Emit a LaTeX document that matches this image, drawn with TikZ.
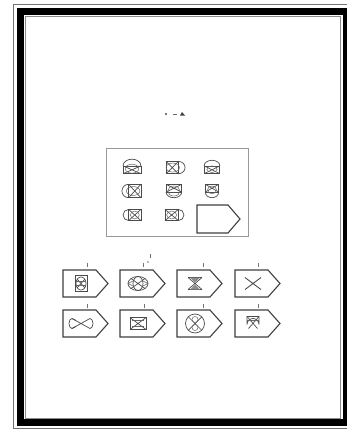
\documentclass[tikz,border=0pt]{standalone}
\begin{document}
\begin{tikzpicture}[x=1pt,y=-1pt,
  ln/.style={draw=black!70,line width=0.7pt},
  fine/.style={draw=black!60,line width=0.5pt},
  pentline/.style={draw=black!75,line width=1.1pt,line join=miter},
  tick/.style={draw=black!55,line width=0.7pt}]
\useasboundingbox (0,0) rectangle (347,436);
\fill[white] (0,0) rectangle (347,436);
% frame
\draw[black!55,line width=1pt] (13.5,4.5) rectangle (352,428.5);
\draw[black,line width=7pt] (20.5,11.5) rectangle (346,422.5);
\draw[black!45,line width=0.8pt] (25.5,16.5) rectangle (340.5,418.5);
% top small marks
\fill[black!70] (166,114) circle (1.1);
\draw[black!60,line width=0.8pt] (173,114.5) -- (177,114.5);
\fill[black!75] (182,112) -- (185,115.5) -- (180,115.5) -- cycle;
% panel
\draw[black!40,line width=0.8pt] (106,148) rectangle (248,236);
% panel icons
% r1c1 dome top
\begin{scope}[shift={(132,167)},scale=1.12]
 \draw[ln] (-8,-1) rectangle (8,6);
 \draw[ln] (-8,-1) -- (8,6) (-8,6) -- (8,-1);
 \draw[ln] (-8,-1) arc[start angle=180,end angle=0,x radius=8,y radius=-6];
 \draw[fine] (0,1.5) ellipse (6 and 4);
\end{scope}
% r1c2 round right
\begin{scope}[shift={(175,167)},scale=1.12]
 \draw[ln] (-8,-5) rectangle (3,6);
 \draw[ln] (-8,-5) -- (3,6) (-8,6) -- (3,-5);
 \draw[ln] (3,-5) arc[start angle=90,end angle=-90,x radius=6,y radius=-5.5];
 \draw[fine] (-2,0.5) ellipse (6 and 4);
\end{scope}
% r1c3 dome top small
\begin{scope}[shift={(212,167)},scale=1.12]
 \draw[ln] (-7,-1) rectangle (7,6);
 \draw[ln] (-7,-1) -- (7,6) (-7,6) -- (7,-1);
 \draw[ln] (-7,-1) arc[start angle=180,end angle=0,x radius=7,y radius=-5];
 \draw[fine] (0,2) ellipse (4.5 and 3);
\end{scope}
% r2c1 round left
\begin{scope}[shift={(132,191)},scale=1.12]
 \draw[ln] (-3,-6) rectangle (8,6);
 \draw[ln] (-3,-6) -- (8,6) (-3,6) -- (8,-6);
 \draw[ln] (-3,-6) arc[start angle=90,end angle=270,x radius=6,y radius=-6];
 \draw[fine] (1,0) ellipse (6 and 4);
\end{scope}
% r2c2 round bottom wide
\begin{scope}[shift={(175,191)},scale=1.12]
 \draw[ln] (-8,-6) rectangle (6,1);
 \draw[ln] (-8,-6) -- (6,1) (-8,1) -- (6,-6);
 \draw[ln] (-8,1) arc[start angle=180,end angle=360,x radius=7,y radius=-5];
 \draw[fine] (-1,0) ellipse (5.5 and 4.5);
\end{scope}
% r2c3 round bottom
\begin{scope}[shift={(212,191)},scale=1.12]
 \draw[ln] (-6,-6) rectangle (6,1);
 \draw[ln] (-6,-6) -- (6,1) (-6,1) -- (6,-6);
 \draw[ln] (-6,1) arc[start angle=180,end angle=360,x radius=6,y radius=-5];
 \draw[fine] (0,-1) ellipse (4 and 3.5);
\end{scope}
% r3c1 round left
\begin{scope}[shift={(132,215)},scale=1.12]
 \draw[ln] (-3,-5) rectangle (8,5);
 \draw[ln] (-3,-5) -- (8,5) (-3,5) -- (8,-5);
 \draw[ln] (-3,-5) arc[start angle=90,end angle=270,x radius=5,y radius=-5];
 \draw[fine] (2.5,0) ellipse (4 and 3.5);
\end{scope}
% r3c2 round right
\begin{scope}[shift={(175,215)},scale=1.12]
 \draw[ln] (-9,-5) rectangle (3,5);
 \draw[ln] (-9,-5) -- (3,5) (-9,5) -- (3,-5);
 \draw[ln] (3,-5) arc[start angle=90,end angle=-90,x radius=5,y radius=-5];
 \draw[fine] (-3,0) ellipse (4.5 and 3.5);
\end{scope}
% r3c3 empty pentagon
\draw[pentline] (197,205) -- (228,205) -- (240,219) -- (228,233) -- (197,233) -- cycle;
% tick below panel
\draw[tick] (150,254) -- (150,258);
% options: pentagons
\foreach \x/\y in {63/270,120/270,177/270,235/270,63/310,120/310,177/310,235/310}{
  \draw[pentline] (\x,\y) -- (\x+33,\y) -- (\x+45,\y+13.5) -- (\x+33,\y+27) -- (\x,\y+27) -- cycle;
}
% option labels (tiny marks)
\foreach \x/\y in {87/265,143/265,203/265,258/265,87/306,144/306,203/306,258/306}{
  \draw[tick] (\x,\y-2) -- (\x,\y+1.5);
}
\fill[black!55] (148,262) circle (0.8);
% option 1
\begin{scope}[shift={(81,283.5)}]
 \draw[ln] (-6,-8) rectangle (6,8);
 \draw[ln] (0,0) ellipse (5 and 6.5);
 \draw[ln] (-4,-4.5) -- (4,4.5) (-4,4.5) -- (4,-4.5);
 \draw[fine] (-5,-2) -- (5,-2) (-5,2) -- (5,2);
\end{scope}
% option 2
\begin{scope}[shift={(138,283.5)}]
 \draw[ln] (0,0) ellipse (10 and 7);
 \draw[ln] (0,0) ellipse (5 and 7);
 \draw[ln] (-7,-5) -- (7,5) (-7,5) -- (7,-5);
 \draw[fine] (-10,0) -- (-5,-2.5) (-10,0) -- (-5,2.5) (10,0) -- (5,-2.5) (10,0) -- (5,2.5);
\end{scope}
% option 3 hourglass
\begin{scope}[shift={(195,283.5)}]
 \draw[ln,line width=1pt] (-7,-6) -- (7,-6) (-7,6) -- (7,6);
 \draw[ln] (-7,-6) -- (7,6) (-7,6) -- (7,-6);
 \fill[black!45] (-5,-6) -- (5,-6) -- (0,-1) -- cycle;
 \fill[black!45] (-5,6) -- (5,6) -- (0,1) -- cycle;
\end{scope}
% option 4 X
\begin{scope}[shift={(253,283.5)}]
 \draw[ln,line width=0.9pt] (-8,-6) -- (8,6) (-8,6) -- (8,-6);
\end{scope}
% option 5 bow tie
\begin{scope}[shift={(81,323.5)}]
 \draw[ln] (-9,-5) -- (9,5) (-9,5) -- (9,-5);
 \draw[ln] (-9,-5) arc[start angle=90,end angle=270,x radius=3,y radius=-5];
 \draw[ln] (9,-5) arc[start angle=90,end angle=-90,x radius=3,y radius=-5];
 \draw[ln] (-9,-5) -- (-5,-3) (-9,5) -- (-5,3);
\end{scope}
% option 6 rect X
\begin{scope}[shift={(138,323.5)}]
 \draw[ln] (-8,-6) rectangle (8,6);
 \draw[ln] (-8,-6) -- (8,6) (-8,6) -- (8,-6);
 \draw[fine] (-6,-3) -- (6,-3) (-6,3) -- (6,3);
\end{scope}
% option 7 circle X
\begin{scope}[shift={(195,323.5)}]
 \draw[ln] (0,0) circle (9.5);
 \draw[ln] (-6.7,-6.7) -- (6.7,6.7) (-6.7,6.7) -- (6.7,-6.7);
 \draw[fine] (0,-4) circle (3) (0,4) circle (3);
\end{scope}
% option 8 shield
\begin{scope}[shift={(253,323.5)}]
 \draw[ln] (-6,-7) -- (6,-7) -- (6,1) arc[start angle=0,end angle=180,x radius=6,y radius=-6] -- cycle;
 \draw[ln] (-6,-7) -- (4.5,5) (-4.5,5) -- (6,-7);
 \draw[fine] (-6,-3) -- (6,-3);
\end{scope}
\end{tikzpicture}
\end{document}
